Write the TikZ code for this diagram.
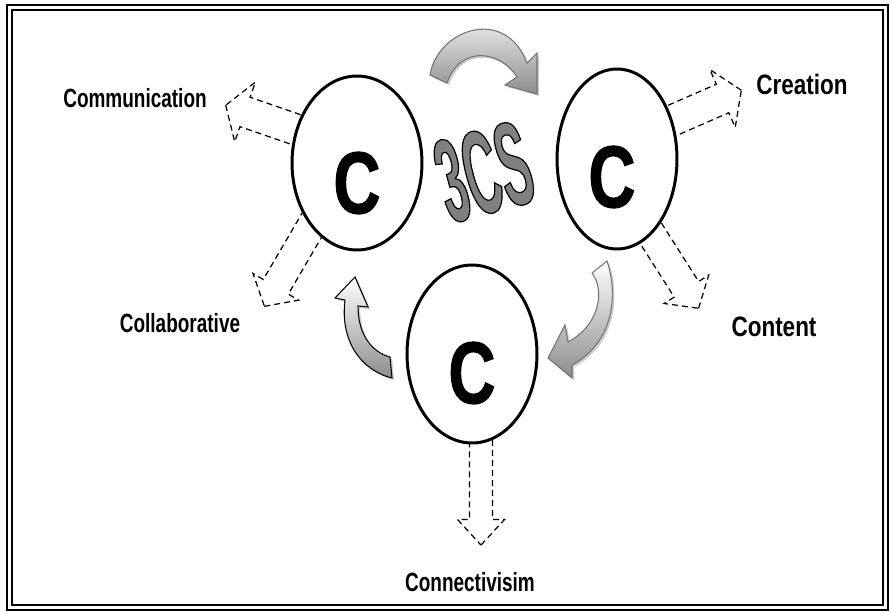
\documentclass[tikz,border=0pt]{standalone}
\usepackage{fontspec}
\setmainfont{Liberation Sans}[FakeStretch=0.82]
\newfontfamily\narrowfont{Liberation Sans}[FakeStretch=0.72]
\newfontfamily\widefont{Liberation Sans}[FakeStretch=0.8]
\newfontfamily\cfont{Liberation Sans}[FakeStretch=0.74, FakeBold=1.2]
\newfontfamily\tallfont{Liberation Sans}[FakeStretch=0.40, FakeBold=1]
\usetikzlibrary{shapes.arrows,shapes.geometric,calc}

\begin{document}
\begin{tikzpicture}[x=0.02cm, y=-0.02cm,
    ring/.style={draw, ellipse, line width=1.7pt, fill=white, inner sep=0pt},
    bigc/.style={font=\cfont\fontsize{50}{50}\selectfont\bfseries},
    lbl/.style={font=\narrowfont\fontsize{15}{16}\selectfont\bfseries},
    lblw/.style={font=\widefont\fontsize{16}{17}\selectfont\bfseries},
    outarrow/.style={draw, single arrow, line width=0.7pt, dash pattern=on 3.4pt off 2.3pt,
        inner xsep=0pt, text height=0pt, text depth=0pt, anchor=tip},
    turn/.style={draw=black!55, line width=0.6pt, top color=white, bottom color=black!45,
        preaction={fill=black!20, transform canvas={shift={(1.2pt,-1.2pt)}}}}
]
\useasboundingbox (0,0) rectangle (892,612);

% frame
\draw[line width=0.9pt] (7,5) rectangle (888,610);
\draw[line width=1.4pt] (12,10) rectangle (883,605);

% dashed arrows out of the circles
\node (arCom) [outarrow, rotate=160.9, inner ysep=8.5pt, single arrow head extend=9.1pt,
    single arrow tip angle=114, minimum height=1.9cm] at (225,105) {};
\node (arCre) [outarrow, rotate=23.6, inner ysep=8.5pt, single arrow head extend=9.1pt,
    single arrow tip angle=114, minimum height=2cm] at (742,90) {};
\node (arCnt) [outarrow, rotate=-57.5, inner ysep=7.9pt, single arrow head extend=6.8pt,
    single arrow tip angle=99, minimum height=2.2cm] at (699,309) {};
\node (arCol) [outarrow, rotate=-120.3, inner ysep=7.9pt, single arrow head extend=6.8pt,
    single arrow tip angle=99, minimum height=2.2cm] at (264,307) {};
\node (arCnv) [outarrow, rotate=-90, inner ysep=6.2pt, single arrow head extend=6.8pt,
    single arrow tip angle=85, minimum height=2.6cm] at (481,546) {};

% the three C's
\node (c1) [ring, minimum width=2.6cm, minimum height=3.48cm] at (357,163) {};
\node (c2) [ring, minimum width=2.4cm, minimum height=3.6cm] at (617,159) {};
\node (c3) [ring, minimum width=2.6cm, minimum height=3.56cm] at (472,354) {};
\node (c1t) [bigc] at (357,183) {C};
\node (c2t) [bigc] at (612,177) {C};
\node (c3t) [bigc] at (472,373) {C};

% turning arrows
\draw[turn] (430,75) .. controls (437,30) and (505,5) .. (527,63)
    -- (537,53) -- (537,94) -- (505,85) -- (517,77)
    .. controls (500,50) and (460,45) .. (447,83) -- cycle;
\draw[turn] (592,273) -- (607,261) .. controls (620,300) and (610,345) .. (572,365)
    -- (572,378) -- (548,358) -- (565,325) -- (568,342)
    .. controls (600,325) and (605,290) .. (592,273);
\draw[turn, draw=black] (392,378) .. controls (360,370) and (340,340) .. (345,300)
    -- (335,298) -- (355,277) -- (368,307) -- (358,306)
    .. controls (358,335) and (372,352) .. (390,357) -- cycle;

% 3CS
\node (t3cs) [rotate=15, text=black!50, font=\tallfont\fontsize{68}{68}\selectfont\bfseries]
    at (484,172) {\special{pdf:code 0 G}3CS};

% labels
\node (lCom) [lbl] at (135,98) {Communication};
\node (lCre) [lblw] at (802,84) {Creation};
\node (lCnt) [lblw] at (774,327) {Content};
\node (lCol) [lbl] at (180,323) {Collaborative};
\node (lCnv) [lbl] at (470,582) {Connectivisim};
\end{tikzpicture}
\end{document}
